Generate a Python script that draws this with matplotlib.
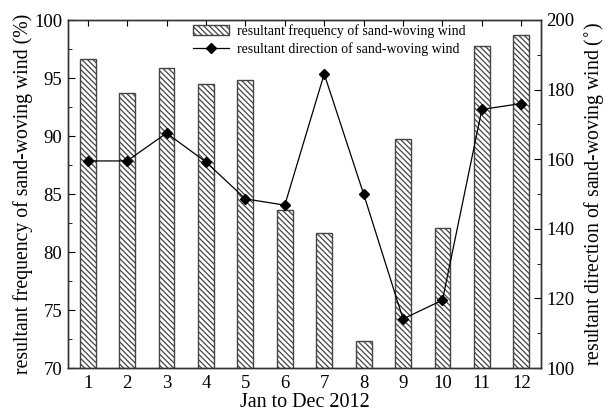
import matplotlib
matplotlib.use("Agg")
import matplotlib.pyplot as plt
from matplotlib.ticker import MultipleLocator

months = [1, 2, 3, 4, 5, 6, 7, 8, 9, 10, 11, 12]
frequency = [96.6, 93.7, 95.9, 94.5, 94.8, 83.6, 81.6, 72.3, 89.7, 82.1, 97.8, 98.7]
direction = [159.5, 159.5, 167.5, 159.2, 148.6, 146.8, 184.5, 150.0, 114.1, 119.5, 174.3, 176.0]

plt.rcParams['font.family'] = ['Liberation Serif', 'DejaVu Serif']
plt.rcParams['hatch.linewidth'] = 0.9
plt.rcParams['hatch.color'] = '#111111'

fig = plt.figure(figsize=(6.14, 4.19), dpi=100)
ax = fig.add_axes([68/614, 1-368/419, (541-68)/614, (368-20)/419])
ax2 = ax.twinx()

bars = ax.bar(months, frequency, width=0.4, bottom=0, facecolor='white',
              edgecolor='#444444', hatch='\\' * 6, linewidth=1.0,
              label='resultant frequency of sand-woving wind', zorder=2)
ax.set_ylim(70, 100)
ax.set_xlim(0.5, 12.5)
ax.set_xticks(months)
ax.yaxis.set_major_locator(MultipleLocator(5))
ax.yaxis.set_minor_locator(MultipleLocator(2.5))
ax.tick_params(axis='both', which='both', direction='in', labelsize=13.5)
ax.tick_params(axis='x', top=True, length=4, pad=5)
ax.tick_params(axis='y', which='major', length=5, pad=4)
ax.tick_params(axis='y', which='minor', length=3)
ax.set_xlabel('Jan to Dec 2012', fontsize=14.5, labelpad=1)
ax.set_ylabel('resultant frequency of sand-woving wind (%)', fontsize=14.2, labelpad=1)

line, = ax2.plot(months, direction, color='black', linewidth=0.9, marker='D',
                 markersize=5, label='resultant direction of sand-woving wind', zorder=3)
ax2.set_ylim(100, 200)
ax2.yaxis.set_major_locator(MultipleLocator(20))
ax2.yaxis.set_minor_locator(MultipleLocator(10))
ax2.tick_params(axis='y', which='both', direction='in', labelsize=13.5)
ax2.tick_params(axis='y', which='major', length=5, pad=4)
ax2.tick_params(axis='y', which='minor', length=3)
ax2.set_ylabel('resultant direction of sand-woving wind ($^{\\circ}$)', fontsize=14.2, labelpad=5)

for a in (ax, ax2):
    for s in a.spines.values():
        s.set_linewidth(1.0)
        s.set_color('#333333')

ax2.legend([bars, line], [bars.get_label(), line.get_label()], loc='upper left',
           bbox_to_anchor=(0.24, 1.02), frameon=False, fontsize=10,
           handlelength=2.6, handletextpad=0.6, borderpad=0.3, labelspacing=0.3)

fig.savefig('out.png', dpi=100)
